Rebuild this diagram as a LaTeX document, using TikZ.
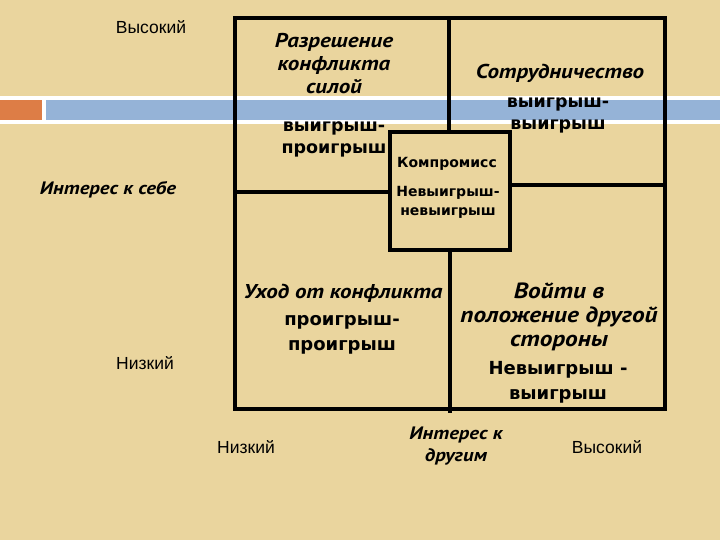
\documentclass[tikz,border=0pt]{standalone}
\usepackage{fontspec}
\setmainfont{Liberation Sans}
\newfontfamily\dv{DejaVu Sans}
\newfontfamily\pt{PT Sans}[FakeStretch=1.15]
\definecolor{bg}{RGB}{234,213,158}
\definecolor{band}{RGB}{149,179,215}
\definecolor{accent}{RGB}{221,125,70}
\begin{document}
\begin{tikzpicture}[x=1pt,y=-1pt,
  frame/.style={line width=4pt,black},
  ax/.style={font=\fontsize{17.5}{18}\selectfont,inner sep=0pt,anchor=center},
  axit/.style={font=\pt\fontsize{18}{22}\selectfont\bfseries\itshape,inner sep=0pt,align=center},
  head/.style={font=\pt\fontsize{20}{23}\selectfont\bfseries\itshape,inner sep=0pt,align=center},
  headb/.style={font=\pt\fontsize{22}{24}\selectfont\bfseries\itshape,inner sep=0pt,align=center},
  res/.style={font=\dv\fontsize{17.5}{22}\selectfont\bfseries,inner sep=0pt,align=center},
  resb/.style={font=\dv\fontsize{18}{25}\selectfont\bfseries,inner sep=0pt,align=center},
  ress/.style={font=\dv\fontsize{14}{19}\selectfont\bfseries,inner sep=0pt,align=center}]
\useasboundingbox (0,0) rectangle (720,540);
\fill[bg] (0,0) rectangle (720,540);
% band
\fill[white] (0,96) rectangle (720,124);
\fill[accent] (0,100) rectangle (42,120);
\fill[band] (46,100) rectangle (720,120);
% frame
\draw[frame] (234.5,18.5) rectangle (665,409);
\draw[frame] (449,18.5) -- (449,132);
\draw[frame] (390,132) rectangle (509.5,249.5);
\draw[frame] (234.5,192) -- (390,192);
\draw[frame] (509.5,185) -- (665,185);
\draw[frame] (450,249.5) -- (450,413);
% axis labels
\node[ax] (hiY) at (151,27) {Высокий};
\node[axit] (self) at (108,190) {Интерес к себе};
\node[ax] (loY) at (145,363) {Низкий};
\node[ax] (loX) at (246,447) {Низкий};
\node[axit] (other) at (456,446) {Интерес к\\другим};
\node[ax] (hiX) at (607,447) {Высокий};
% quadrants
\node[head] (force) at (334,64) {Разрешение\\конфликта\\силой};
\node[res] (forceR) at (334,139) {выигрыш-\\проигрыш};
\node[head] (coop) at (560,73) {Сотрудничество};
\node[res] (coopR) at (558,115.5) {выигрыш-\\выигрыш};
\node[ress] (comp) at (447,164) {Компромисс};
\node[ress] (compR) at (448,202.5) {Невыигрыш-\\невыигрыш};
\node[headb,font=\pt\fontsize{20}{24}\selectfont\bfseries\itshape] (avoid) at (343,293) {Уход от конфликта};
\node[resb] (avoidR) at (342,334.5) {проигрыш-\\проигрыш};
\node[headb] (accom) at (559,317) {Войти в\\положение другой\\стороны};
\node[resb] (accomR) at (558,382) {Невыигрыш -\\выигрыш};
\end{tikzpicture}
\end{document}
